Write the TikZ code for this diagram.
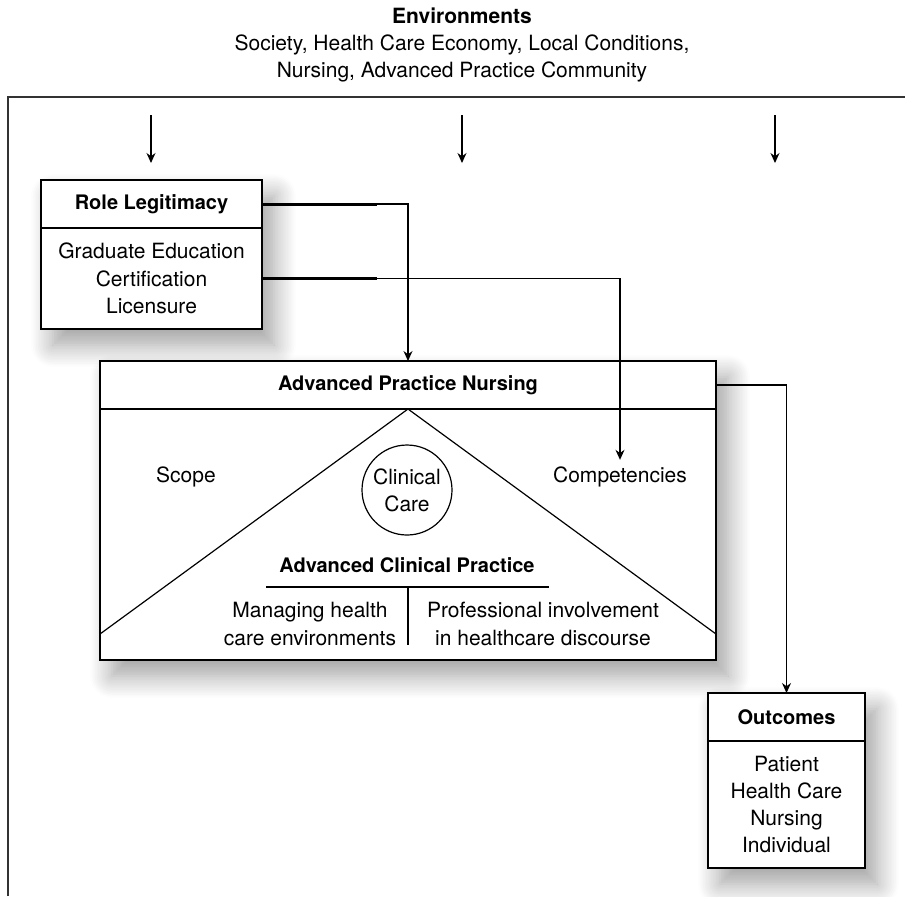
\documentclass[tikz,border=0pt]{standalone}
\usepackage{fontspec}
\setmainfont{TeX Gyre Heros}
\usetikzlibrary{positioning}
\usetikzlibrary{arrows.meta,calc,shadows.blur}
\tikzset{boxframe/.style={draw, fill=white, line width=0.6pt, inner sep=0pt, outer sep=0pt,
    blur shadow={shadow xshift=6pt, shadow yshift=-8pt, shadow blur radius=11pt, shadow blur steps=14, shadow opacity=38}}}
\tikzset{headpart/.style={draw, line width=0.6pt, inner sep=0pt, outer sep=0pt, font=\bfseries, minimum height=24pt}}
\tikzset{bodypart/.style={inner sep=0pt, outer sep=0pt, align=center}}
\tikzset{arr/.style={-{Stealth[length=5pt,width=4.5pt]}, line width=0.6pt}}
\tikzset{stub/.style={line width=1.5pt}}

\begin{document}
\begin{tikzpicture}[x=0.5pt, y=-0.5pt, font=\fontsize{10.5}{13.6}\selectfont]
\useasboundingbox (0,0) rectangle (905,896);

% environments and frame
\node[align=center] (env) at (462,45) {\textbf{Environments}\\Society, Health Care Economy, Local Conditions,\\Nursing, Advanced Practice Community};
\draw[line width=0.7pt, black!80] (8,896) -- (8,97) -- (905,97);
\foreach \x/\n in {151/a,462/b,775/c} {
  \coordinate (in\n) at (\x,115);
  \coordinate (to\n) at (\x,163);
  \draw[arr] (in\n) -- (to\n);
}

% role legitimacy
\node[boxframe, minimum width=110.5pt, minimum height=74.5pt, anchor=north] (rlbox) at (151.5,180) {};
\node[headpart, minimum width=110.5pt, anchor=north] (rl) at (rlbox.north) {Role Legitimacy};
\node[bodypart, minimum width=110.5pt, minimum height=50.5pt, below=0pt of rl] (rlbody) {Graduate Education\\Certification\\Licensure};

% advanced practice nursing
\node[boxframe, minimum width=308pt, minimum height=149.5pt, anchor=north] (apnbox) at (408,361) {};
\node[headpart, minimum width=308pt, anchor=north] (apn) at (apnbox.north) {Advanced Practice Nursing};
\node[bodypart, minimum width=308pt, minimum height=125.5pt, below=0pt of apn] (apnbody) {};
\draw[line width=0.6pt] ($(apnbody.south west)+(0,-26)$) -- (apnbody.north) -- ($(apnbody.south east)+(0,-26)$);
\node (scope) at (186,477) {Scope};
\node (comp) at (620,477) {Competencies};
\node[draw, circle, minimum size=45pt, inner sep=0pt, align=center, line width=0.6pt] (cc) at (407,490) {Clinical\\Care};
\node[font=\bfseries] (acp) at (407,565) {Advanced Clinical Practice};
\coordinate (sl) at (266,587);
\coordinate (sr) at (549,587);
\coordinate (sm) at (408,587);
\coordinate (sb) at (408,645);
\draw[line width=0.6pt] (sl) -- (sr);
\draw[line width=0.6pt] (sm) -- (sb);
\node[align=center] (mhc) at (310,624) {Managing health\\care environments};
\node[align=center] (phd) at (543,624) {Professional involvement\\in healthcare discourse};

% outcomes
\node[boxframe, minimum width=78.5pt, minimum height=87.5pt, anchor=north] (outbox) at (786.5,693) {};
\node[headpart, minimum width=78.5pt, anchor=north] (out) at (outbox.north) {Outcomes};
\node[bodypart, minimum width=78.5pt, minimum height=63.5pt, below=0pt of out] (outbody) {Patient\\Health Care\\Nursing\\Individual};

% connectors
\draw[stub] (rl.east) -- ++(115,0) coordinate (rlk);
\draw[arr] (rlk) -| (apn.north);
\draw[stub] (rlbody.east) -- ++(115,0) coordinate (rlbk);
\draw[arr] (rlbk) -| (comp.north);
\draw[arr] (apn.east) -| (out.north);
\end{tikzpicture}
\end{document}
